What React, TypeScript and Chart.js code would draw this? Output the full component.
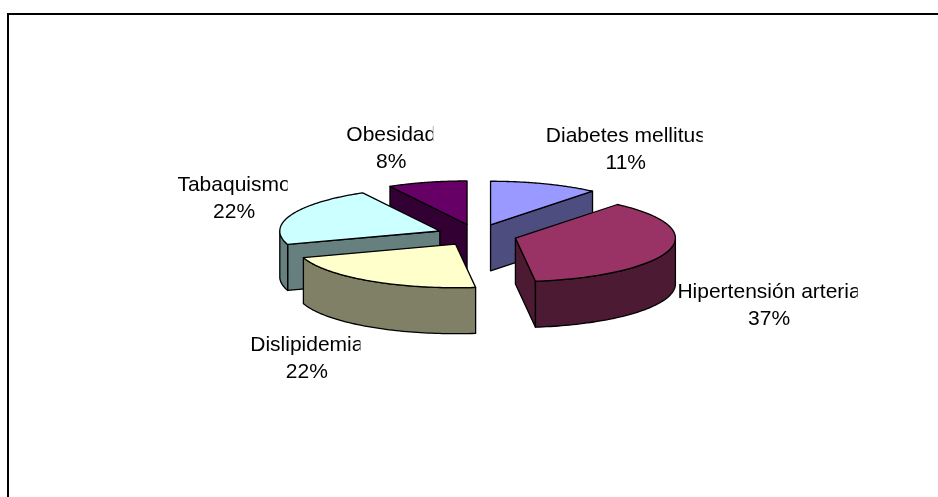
import { useEffect, useRef } from "react";
import { Chart, ArcElement, PieController } from "chart.js";

Chart.register(ArcElement, PieController);

const categories = ["Diabetes mellitus", "Hipertensión arteria", "Dislipidemia", "Tabaquismo", "Obesidad"];
const shares = [11, 37, 22, 22, 8];
const topColors = ["#9999FF", "#993366", "#FFFFCC", "#CCFFFF", "#660066"];
const sideColors = ["#4D4D80", "#4D1A33", "#808066", "#668080", "#330033"];

// Label anchor relative to the rim point in the middle of each slice.
const labelShift = [
  [81, -42],
  [100, 48],
  [-63, 70],
  [-57, -24],
  [-36, -41],
];
// Slices are painted back to front.
const paintOrder = [0, 4, 3, 1, 2];

const FLATTEN = 0.272;
const DEPTH = 46;
const FONT = '21px "Liberation Sans", Arial, sans-serif';
const LINE_HEIGHT = 27;
const LABEL_CLIP = 3;

// Paints the flat arcs computed by the pie controller as extruded, tilted wedges.
const tiltedPie = {
  id: "tiltedPie",
  beforeDatasetDraw(chart: any, args: any) {
    const ctx: CanvasRenderingContext2D = chart.ctx;
    const arcs = args.meta.data;
    const total = shares.reduce((a, b) => a + b, 0);

    ctx.save();
    ctx.lineJoin = "round";
    ctx.lineWidth = 1.3;
    ctx.strokeStyle = "#000";

    for (const i of paintOrder) {
      const arc = arcs[i];
      const { x, y, startAngle, endAngle, outerRadius } = arc.getProps(["x", "y", "startAngle", "endAngle", "outerRadius"]);
      const offset = arc.options.offset;
      const mid = (startAngle + endAngle) / 2;
      const cx = x + Math.cos(mid) * offset;
      const cy = y + Math.sin(mid) * offset;
      const at = (angle: number, r: number) => [cx + Math.cos(angle) * r, y + (cy - y + Math.sin(angle) * r) * FLATTEN];
      const apex = at(0, 0);

      const wall = (angle: number) => {
        const p = at(angle, outerRadius);
        ctx.beginPath();
        ctx.moveTo(apex[0], apex[1]);
        ctx.lineTo(p[0], p[1]);
        ctx.lineTo(p[0], p[1] + DEPTH);
        ctx.lineTo(apex[0], apex[1] + DEPTH);
        ctx.closePath();
        ctx.fillStyle = sideColors[i];
        ctx.fill();
        ctx.stroke();
      };
      // A radial wall faces the viewer only when its outward normal points down the screen.
      if (Math.cos(startAngle) < -1e-6) wall(startAngle);
      if (Math.cos(endAngle) > 1e-6) wall(endAngle);

      // Rim wall: only the part of the arc on the near half of the ellipse.
      const from = Math.max(startAngle, 0);
      const to = Math.min(endAngle, Math.PI);
      if (to > from) {
        const steps = 60;
        ctx.beginPath();
        for (let s = 0; s <= steps; s++) {
          const p = at(from + ((to - from) * s) / steps, outerRadius);
          if (s === 0) ctx.moveTo(p[0], p[1]);
          else ctx.lineTo(p[0], p[1]);
        }
        for (let s = steps; s >= 0; s--) {
          const p = at(from + ((to - from) * s) / steps, outerRadius);
          ctx.lineTo(p[0], p[1] + DEPTH);
        }
        ctx.closePath();
        ctx.fillStyle = sideColors[i];
        ctx.fill();
        ctx.stroke();
      }

      // Top face.
      const steps = 80;
      ctx.beginPath();
      ctx.moveTo(apex[0], apex[1]);
      for (let s = 0; s <= steps; s++) {
        const p = at(startAngle + ((endAngle - startAngle) * s) / steps, outerRadius);
        ctx.lineTo(p[0], p[1]);
      }
      ctx.closePath();
      ctx.fillStyle = topColors[i];
      ctx.fill();
      ctx.stroke();
    }

    // Data labels: category over percentage, the category cut off by a tight text box.
    ctx.font = FONT;
    ctx.fillStyle = "#000";
    ctx.textAlign = "center";
    ctx.textBaseline = "alphabetic";
    arcs.forEach((arc: any, i: number) => {
      const { x, y, startAngle, endAngle, outerRadius } = arc.getProps(["x", "y", "startAngle", "endAngle", "outerRadius"]);
      const mid = (startAngle + endAngle) / 2;
      const reach = outerRadius + arc.options.offset;
      const lx = x + Math.cos(mid) * reach + labelShift[i][0];
      const ly = y + Math.sin(mid) * reach * FLATTEN + labelShift[i][1];
      const w = ctx.measureText(categories[i]).width;
      ctx.save();
      ctx.beginPath();
      ctx.rect(lx - w / 2 - 2, ly - 24, w + 2 - LABEL_CLIP, LINE_HEIGHT * 2 + 8);
      ctx.clip();
      ctx.fillText(categories[i], lx, ly);
      ctx.restore();
      ctx.fillText(`${Math.round((shares[i] / total) * 100)}%`, lx, ly + LINE_HEIGHT);
    });

    ctx.restore();
    return false;
  },
};

export default function App() {
  const canvasRef = useRef<HTMLCanvasElement>(null);

  useEffect(() => {
    const chart = new Chart(canvasRef.current!, {
      type: "pie",
      data: {
        labels: categories,
        datasets: [{ data: shares, backgroundColor: topColors, offset: 40, borderWidth: 0 }],
      },
      options: {
        animation: false,
        responsive: false,
        events: [],
        radius: 160,
        layout: { padding: { left: 16, bottom: 27 } },
        plugins: { legend: { display: false }, tooltip: { enabled: false } },
      } as any,
      plugins: [tiltedPie],
    });
    return () => chart.destroy();
  }, []);

  return (
    <div style={{ position: "absolute", left: 0, top: 0, width: 938, height: 497, overflow: "hidden", background: "#fff" }}>
      {/* Chart frame: top and left rules, the other two sides run off the page. */}
      <div
        style={{
          position: "absolute",
          left: 7,
          top: 13,
          width: 960,
          height: 520,
          boxSizing: "border-box",
          borderLeft: "2px solid #000",
          borderTop: "2px solid #000",
        }}
      />
      <canvas ref={canvasRef} width={938} height={497} style={{ position: "absolute", left: 0, top: 0, display: "block" }} />
    </div>
  );
}
